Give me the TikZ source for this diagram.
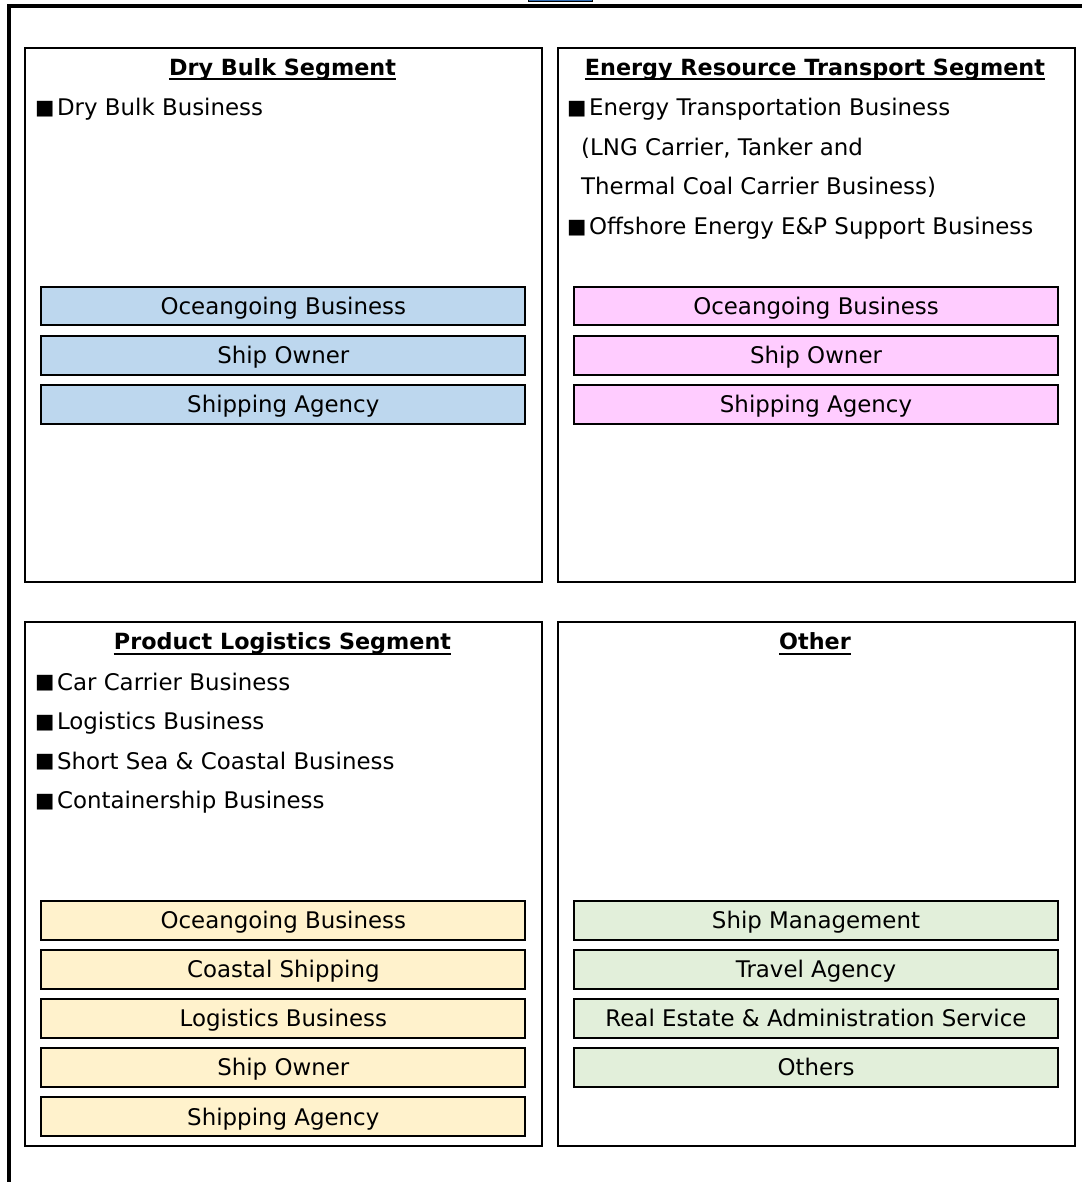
\documentclass[tikz,border=0pt]{standalone}
\usepackage{fontspec}
\setmainfont{DejaVu Sans}
\definecolor{bluefill}{HTML}{BDD7EE}
\definecolor{pinkfill}{HTML}{FFCCFF}
\definecolor{yellowfill}{HTML}{FFF2CC}
\definecolor{greenfill}{HTML}{E2EFDA}
\definecolor{markblue}{HTML}{2E6DB4}
\newcommand{\sqbullet}{\raisebox{1.5pt}{\fontsize{20.5}{20}\selectfont ■}\hspace{2.5pt}}
\begin{document}
\begin{tikzpicture}[x=1pt,y=-1pt,
  font=\fontsize{22.9}{27}\selectfont,
  panel/.style={draw=black, line width=2pt, anchor=north west, inner sep=0pt,
    minimum width=517pt, minimum height=534pt},
  lowpanel/.style={panel, minimum height=524pt},
  itembox/.style={draw=black, line width=2pt, anchor=north west, inner sep=0pt,
    minimum width=484pt, minimum height=38.5pt, text height=16.7pt, text depth=0pt},
  bluebox/.style={itembox, fill=bluefill},
  pinkbox/.style={itembox, fill=pinkfill},
  yellowbox/.style={itembox, fill=yellowfill},
  greenbox/.style={itembox, fill=greenfill},
  bulletline/.style={anchor=base west, inner sep=0pt},
  title/.style={anchor=base, inner sep=0pt, font=\fontsize{22.3}{27}\selectfont\bfseries},
  ulinestyle/.style={line width=2pt},
  topmark/.style={draw=black, line width=1pt, fill=markblue, anchor=south west,
    inner sep=0pt, minimum width=64pt, minimum height=10pt}
]
\useasboundingbox (0,0) rectangle (1081,1182);
% outer frame
\draw[line width=4pt] (1085,5.6) -- (8.5,5.6) -- (8.5,1185);
\node[topmark] (mk) at (528,2.5) {};

% panels
\node[panel] (p1) at (24,47) {};
\node[panel] (p2) at (557,47) {};
\node[lowpanel] (p3) at (24,621) {};
\node[lowpanel] (p4) at (557,621) {};

% titles
\node[title] (t1) at (282.5,75.5) {Dry Bulk Segment};
\node[title] (t2) at (815,75.5) {Energy Resource Transport Segment};
\node[title] (t3) at (282.5,649.5) {Product Logistics Segment};
\node[title] (t4) at (815,649.5) {Other};
\foreach \t in {t1,t2,t3,t4}
  \draw[ulinestyle] ([yshift=-4pt]\t.base west) -- ([yshift=-4pt]\t.base east);

% bullet texts
\node[bulletline] (b1) at (35,116) {\sqbullet Dry Bulk Business};
\node[bulletline] (b2) at (567,116) {\sqbullet Energy Transportation Business};
\node[bulletline] (b3) at (581,155.5) {(LNG Carrier, Tanker and};
\node[bulletline] (b4) at (581,195) {Thermal Coal Carrier Business)};
\node[bulletline] (b5) at (567,234.5) {\sqbullet Offshore Energy E\&P Support Business};
\node[bulletline] (b6) at (35,690) {\sqbullet Car Carrier Business};
\node[bulletline] (b7) at (35,729.5) {\sqbullet Logistics Business};
\node[bulletline] (b8) at (35,769) {\sqbullet Short Sea \& Coastal Business};
\node[bulletline] (b9) at (35,808.5) {\sqbullet Containership Business};

% dry bulk boxes
\node[bluebox] (d1) at (40.3,285.7) {Oceangoing Business};
\node[bluebox] (d2) at (40.3,335) {Ship Owner};
\node[bluebox] (d3) at (40.3,384.3) {Shipping Agency};
% energy boxes
\node[pinkbox] (e1) at (573,285.7) {Oceangoing Business};
\node[pinkbox] (e2) at (573,335) {Ship Owner};
\node[pinkbox] (e3) at (573,384.3) {Shipping Agency};
% product logistics boxes
\node[yellowbox] (l1) at (40.3,900.3) {Oceangoing Business};
\node[yellowbox] (l2) at (40.3,949.3) {Coastal Shipping};
\node[yellowbox] (l3) at (40.3,998) {Logistics Business};
\node[yellowbox] (l4) at (40.3,1047.2) {Ship Owner};
\node[yellowbox] (l5) at (40.3,1096.4) {Shipping Agency};
% other boxes
\node[greenbox] (o1) at (573,900.3) {Ship Management};
\node[greenbox] (o2) at (573,949.3) {Travel Agency};
\node[greenbox] (o3) at (573,998) {Real Estate \& Administration Service};
\node[greenbox] (o4) at (573,1047.2) {Others};
\end{tikzpicture}
\end{document}
